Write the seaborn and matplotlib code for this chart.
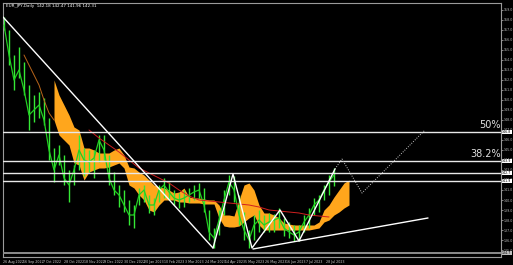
import matplotlib
matplotlib.use("Agg")
import numpy as np
import pandas as pd
import seaborn as sns
import matplotlib.pyplot as plt
import matplotlib.transforms as mtransforms

# ---------------- data ----------------
title_text = "EUR_JPY,Daily  142.18 142.47 141.96 142.31"

close = [157.5, 154.5, 152.0, 153.0, 151.0, 148.5, 149.0, 149.5, 148.0, 145.0,
         143.0, 144.5, 142.2, 141.5, 143.0, 145.0, 144.0, 143.8, 144.2, 146.0,
         145.0, 142.2, 141.0, 140.5, 139.5, 138.5, 138.5, 140.5, 141.0, 139.5,
         139.5, 141.0, 141.5, 140.8, 140.2, 140.0, 140.2, 140.5, 140.8, 141.0,
         139.5, 136.8, 136.2, 138.0, 140.0, 141.8, 141.0, 138.5, 137.0, 136.0,
         137.5, 138.0, 137.5, 137.8, 138.0, 138.2, 137.2, 136.8, 136.5, 136.8,
         137.8, 138.5, 139.5, 140.0, 141.0, 141.8, 142.5]
high = [158.3, 157.0, 154.5, 155.3, 153.8, 151.5, 150.5, 150.8, 150.2, 148.2,
        145.2, 145.5, 144.5, 143.0, 143.5, 146.5, 145.2, 145.0, 145.0, 146.5,
        146.5, 144.5, 142.8, 141.5, 141.0, 140.0, 139.5, 141.2, 141.5, 140.5,
        140.2, 141.5, 142.2, 141.8, 141.0, 140.7, 141.0, 141.2, 141.5, 141.7,
        141.2, 139.0, 137.2, 139.0, 141.0, 142.5, 142.4, 140.5, 138.8, 137.0,
        138.5, 139.0, 138.5, 138.7, 138.6, 139.2, 138.2, 137.8, 137.5, 137.5,
        138.5, 139.2, 140.2, 140.5, 141.5, 142.5, 143.2]
low = [157.0, 153.5, 151.0, 152.2, 150.5, 147.0, 147.8, 148.2, 147.5, 144.0,
       141.8, 143.5, 141.5, 139.8, 141.5, 143.0, 142.4, 142.8, 142.2, 143.8,
       144.0, 141.5, 140.5, 139.3, 138.8, 137.5, 137.2, 139.5, 139.8, 138.7,
       138.5, 139.8, 140.2, 140.0, 139.5, 139.2, 139.3, 139.8, 140.0, 140.2,
       138.8, 136.0, 135.2, 136.5, 138.5, 140.5, 139.8, 137.5, 136.0, 135.2,
       136.0, 136.8, 136.8, 136.8, 136.8, 137.2, 136.4, 136.2, 135.9, 135.9,
       136.8, 137.2, 138.5, 138.8, 140.0, 140.5, 141.4]

cloud_start = 10
cloud_top = [152.0, 150.5, 149.5, 148.5, 147.3, 147.0, 145.2, 145.2, 145.0, 144.7,
             144.7, 144.7, 145.0, 145.2, 144.5, 143.3, 143.2, 142.8, 142.5, 142.0,
             141.5, 141.3, 141.2, 141.0, 140.7, 140.8, 141.2, 140.3, 140.2, 140.2,
             140.1, 140.0, 140.0, 139.5, 138.5, 138.5, 138.4, 140.0, 141.5, 141.7,
             141.0, 139.5, 138.7, 138.7, 138.5, 138.2, 137.7, 137.6, 137.5, 137.5,
             137.5, 137.5, 137.5, 137.8, 139.0, 139.5, 140.3, 141.0, 141.7, 142.0]
cloud_bot = [148.0, 146.5, 146.0, 145.5, 143.7, 143.5, 142.0, 142.8, 143.0, 143.2,
             143.2, 143.3, 143.5, 143.7, 143.2, 141.5, 141.2, 140.5, 140.0, 139.0,
             138.8, 139.5, 140.0, 140.0, 140.0, 139.8, 139.8, 139.7, 139.7, 139.7,
             139.6, 139.6, 139.6, 138.2, 137.4, 137.3, 137.3, 137.4, 137.8, 138.2,
             138.5, 137.5, 137.0, 137.0, 137.0, 137.0, 137.0, 137.0, 137.0, 137.0,
             137.0, 137.0, 137.1, 137.2, 137.8, 138.0, 138.5, 138.8, 139.2, 139.5]

kijun_idx = list(range(17, 67, 2))
kijun = [147.0, 146.2, 145.5, 144.8, 144.0, 143.2, 142.7, 142.2, 141.7, 141.0,
         140.4, 140.0, 139.9, 139.8, 139.7, 139.6, 139.5, 139.3, 139.0, 138.9,
         138.8, 138.7, 138.5, 138.4, 138.3]

lag_idx = [4, 5, 6, 7, 8, 9, 10]
lag = [154.5, 153.5, 152.5, 151.5, 150.0, 148.7, 148.0]

trend_x = [-0.2, 41.8]
trend_y = [158.3, 135.2]
zig_x = [41.8, 45.8, 49.6, 55.2, 59.0, 66.2]
zig_y = [135.2, 142.6, 135.2, 139.0, 135.9, 143.1]
proj_x = [66.2, 67.6, 71.6, 84.2]
proj_y = [143.1, 144.1, 140.7, 147.0]
support_x = [49.8, 84.8]
support_y = [135.1, 138.2]

fib_levels = [146.8, 143.9]
fib_labels = ["50%", "38.2%"]
extra_levels = [142.7, 141.9]
grey_level = 134.7

date_labels = ["26 Aug 2022", "16 Sep 2022", "7 Oct 2022", "28 Oct 2022", "18 Nov 2022",
               "9 Dec 2022", "30 Dec 2022", "20 Jan 2023", "10 Feb 2023", "3 Mar 2023",
               "24 Mar 2023", "14 Apr 2023", "5 May 2023", "26 May 2023", "16 Jun 2023",
               "7 Jul 2023", "28 Jul 2023"]
price_ticks = list(range(135, 160))

# ---------------- style ----------------
sns.set_theme(style="dark", rc={
    "axes.facecolor": "black", "figure.facecolor": "black",
    "axes.edgecolor": "#9a9a9a", "axes.grid": False,
    "xtick.color": "#bbbbbb", "ytick.color": "#bbbbbb",
})
plt.rcParams["font.family"] = ["DejaVu Sans"]

W, H = 513, 265
fig = plt.figure(figsize=(W / 100, H / 100), dpi=100)
ax = fig.add_axes([3 / W, 8 / H, 498 / W, 254 / H])
ax.set_facecolor("black")

# cloud
cidx = np.arange(cloud_start, cloud_start + len(cloud_top))
ax.fill_between(cidx, cloud_bot, cloud_top, color="#ffa61c", lw=0, zorder=1)

# price bars + close line
idx = np.arange(len(close))
ax.vlines(idx, low, high, color="#35e835", lw=1.0, zorder=2)
df = pd.DataFrame({"i": idx, "close": close})
sns.lineplot(data=df, x="i", y="close", ax=ax, color="#22d022", lw=0.9, zorder=3)

# kijun (red) and lagging (brown)
sns.lineplot(x=kijun_idx, y=kijun, ax=ax, color="#d02020", lw=0.7, zorder=4)
sns.lineplot(x=lag_idx, y=lag, ax=ax, color="#b8661a", lw=0.7, zorder=4)

# horizontal levels
for v in fib_levels + extra_levels:
    ax.axhline(v, color="#e8e8e8", lw=1.0, zorder=5)
ax.axhline(grey_level, color="#8c8c8c", lw=1.4, zorder=5)

# trend lines
ax.plot(trend_x, trend_y, color="white", lw=1.0, zorder=6)
ax.plot(zig_x, zig_y, color="white", lw=1.0, zorder=6)
ax.plot(proj_x, proj_y, color="#c8c8c8", lw=0.7, ls=(0, (1, 1.5)), zorder=6)
ax.plot(support_x, support_y, color="white", lw=1.0, zorder=6)

# fib labels
for v, t in zip(fib_levels, fib_labels):
    ax.text(99.4, v + 0.15, t, ha="right", va="bottom", fontsize=7, color="#e0e0e0", zorder=7)

# axes
ax.set_xlim(-0.2, 99.4)
ax.set_ylim(134.3, 159.7)
ax.set_xlabel("")
ax.set_ylabel("")
ax.yaxis.tick_right()
ax.set_yticks(price_ticks)
ax.set_yticklabels([f"{p:.1f}" for p in price_ticks])
ax.tick_params(axis="y", labelsize=2.3, length=1.2, width=0.5, pad=0.5, colors="#bbbbbb")
xt = np.linspace(-0.2, 64.4, len(date_labels))
ax.set_xticks(xt)
ax.set_xticklabels(date_labels, ha="left")
ax.tick_params(axis="x", labelsize=2.3, length=1.5, width=0.5, pad=1, colors="#cccccc")
for s in ax.spines.values():
    s.set_color("#9a9a9a")
    s.set_linewidth(0.8)

# price tags on right axis
trans = mtransforms.blended_transform_factory(ax.transAxes, ax.transData)
for v in fib_levels + extra_levels:
    ax.text(1.002, v, f"{v:.1f}", transform=trans, fontsize=2.3, color="black",
            va="center", ha="left", zorder=8, clip_on=False,
            bbox=dict(boxstyle="square,pad=0.15", fc="white", ec="none"))
ax.text(1.002, grey_level, f"{grey_level:.1f}", transform=trans, fontsize=2.3, color="black",
        va="center", ha="left", zorder=8, clip_on=False,
        bbox=dict(boxstyle="square,pad=0.15", fc="#bdbdbd", ec="none"))

fig.text(6 / W, 1 - 6 / H, title_text, fontsize=3.0, color="white", va="center", ha="left")

fig.savefig("out.png", dpi=100, facecolor="black")
